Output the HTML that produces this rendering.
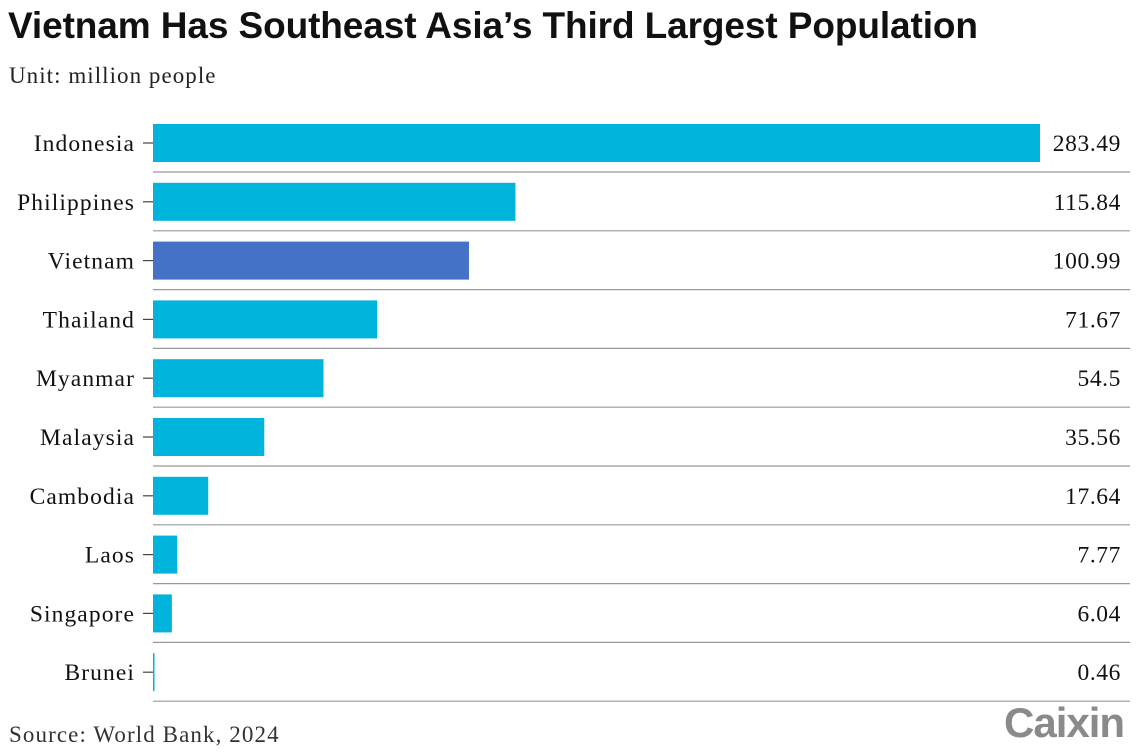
<!DOCTYPE html>
<html><head><meta charset="utf-8"><style>
body{margin:0;background:#fff;width:1140px;height:752px;overflow:hidden;position:relative}
.t{position:absolute;white-space:nowrap}
</style></head><body>
<div class="t" style="left:8px;top:5px;font:bold 37px 'Liberation Sans',sans-serif;color:#111;letter-spacing:-0.1px">Vietnam Has Southeast Asia’s Third Largest Population</div>
<div class="t" style="left:9px;top:63px;font:23px 'Liberation Serif',serif;color:#222;letter-spacing:1.05px">Unit: million people</div>
<svg id="chart" width="1140" height="752" style="position:absolute;left:0;top:0"></svg>
<div class="t" style="left:9px;top:722px;font:23px 'Liberation Serif',serif;color:#333;letter-spacing:1.1px">Source: World Bank, 2024</div>
<div class="t" style="left:1004px;top:699px;font:bold 42px 'Liberation Sans',sans-serif;color:#8a8a8a;letter-spacing:-1px">Caixin</div>
<script>
const categories=["Indonesia","Philippines","Vietnam","Thailand","Myanmar","Malaysia","Cambodia","Laos","Singapore","Brunei"];
const values=[283.49,115.84,100.99,71.67,54.5,35.56,17.64,7.77,6.04,0.46];
const valueLabels=["283.49","115.84","100.99","71.67","54.5","35.56","17.64","7.77","6.04","0.46"];
const highlight="Vietnam";
const svg=document.getElementById('chart');
const NS='http://www.w3.org/2000/svg';
const x0=153,xMax=1040,vMax=283.49;
const xs=v=>x0+(v/vMax)*(xMax-x0);
const pitch=58.8,top0=124,bh=38;
const ys=i=>top0+i*pitch;
function mk(t,a){const e=document.createElementNS(NS,t);for(const k in a)e.setAttribute(k,a[k]);svg.appendChild(e);return e;}
categories.forEach((c,i)=>{
  const y=ys(i);
  const r=mk('rect',{x:x0,y:y,width:Math.max(xs(values[i])-x0,1.5),height:bh,fill:c===highlight?'#4472c4':'#00b4dc'});
  
  
  const sep=mk('line',{x1:x0,x2:1130,y1:y+bh+10,y2:y+bh+10,stroke:'#999','stroke-width':1.2});
  
  
  const tk=mk('line',{x1:143,x2:153,y1:y+bh/2,y2:y+bh/2,stroke:'#444','stroke-width':1.2});
  
  
  const l=mk('text',{x:135,y:y+bh/2+8,'text-anchor':'end','font-family':"'Liberation Serif',serif",'font-size':23.5,'letter-spacing':1.1,fill:'#111'});
  l.textContent=c;
  
  
  const v=mk('text',{x:1121,y:y+bh/2+8,'text-anchor':'end','font-family':"'Liberation Serif',serif",'font-size':23.5,'letter-spacing':0.6,fill:'#111'});
  v.textContent=valueLabels[i];
  
  
});
</script>
</body></html>
